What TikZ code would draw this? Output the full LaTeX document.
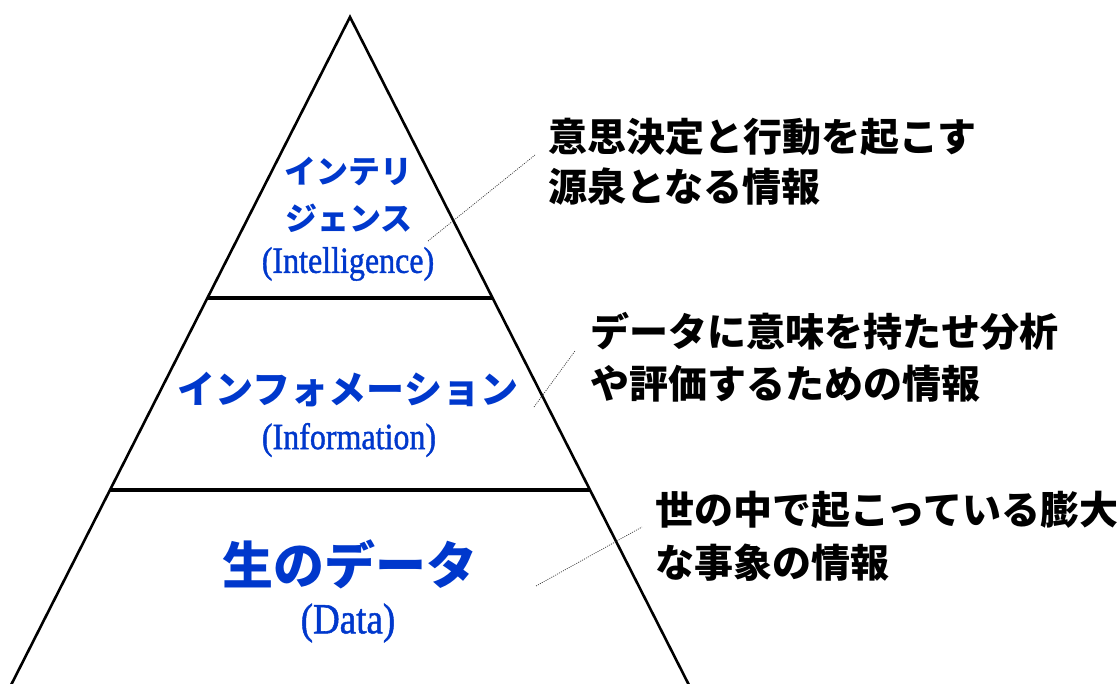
\documentclass[tikz,border=0pt]{standalone}
\usepackage{fontspec}
\newfontfamily\jp{Noto Sans CJK JP}
\newfontfamily\lat[FakeBold=1.2]{Liberation Serif}
\definecolor{tblue}{RGB}{0,56,204}
\tikzset{
  side/.style={line width=2.6pt, line cap=round},
  band/.style={line width=3.6pt},
  lead/.style={line width=0.7pt, dash pattern=on 1pt off 1.2pt, black!80},
  rtext/.style={anchor=base west, inner sep=0pt, font=\jp\bfseries\fontsize{39}{39}\selectfont},
  jtitle/.style={anchor=base, inner sep=0pt, text=tblue},
  ltitle/.style={anchor=center, inner sep=0pt, text=tblue},
}
\begin{document}
\begin{tikzpicture}[x=1pt,y=-1pt]
\useasboundingbox (0,0) rectangle (1118,683);
% pyramid
\coordinate (apex) at (350,17);
\coordinate (bl) at (8,691);
\coordinate (br) at (692,691);
\draw[side] (bl) -- (apex) -- (br);
\coordinate (l1) at (207,298);
\coordinate (r1) at (493,298);
\coordinate (l2) at (110,490);
\coordinate (r2) at (590,490);
\draw[band] (l1) -- (r1);
\draw[band] (l2) -- (r2);
% blue titles
\node[jtitle, font=\jp\bfseries\fontsize{32}{32}\selectfont] (t1a) at (348,183) {インテリ};
\node[jtitle, font=\jp\bfseries\fontsize{32}{32}\selectfont] (t1b) at (349,230) {ジェンス};
\node[ltitle, font=\lat\fontsize{33}{33}\selectfont] (t1c) at (348,264) {\scalebox{0.97}[1.12]{(Intelligence)}};
\node[jtitle, font=\jp\bfseries\fontsize{38}{38}\selectfont] (t2a) at (348,403) {インフォメーション};
\node[ltitle, font=\lat\fontsize{33}{33}\selectfont] (t2b) at (349,440) {\scalebox{0.97}[1.12]{(Information)}};
\node[jtitle, font=\jp\bfseries\fontsize{51}{51}\selectfont] (t3a) at (350,584) {生のデータ};
\node[ltitle, font=\lat\fontsize{39}{39}\selectfont] (t3b) at (348,623) {\scalebox{0.95}[1.1]{(Data)}};
% right descriptions
\node[rtext] (d1a) at (548,151) {意思決定と行動を起こす};
\node[rtext] (d1b) at (548,201) {源泉となる情報};
\node[rtext] (d2a) at (590,346) {データに意味を持たせ分析};
\node[rtext] (d2b) at (590,398) {や評価するための情報};
\node[rtext] (d3a) at (655,524) {世の中で起こっている膨大};
\node[rtext] (d3b) at (655,577) {な事象の情報};
% leader lines
\coordinate (s1) at (428,241);
\coordinate (e1) at (535,155);
\coordinate (s2) at (534,407);
\coordinate (e2) at (575,351);
\coordinate (s3) at (536,586);
\coordinate (e3) at (642,527);
\draw[lead] (s1) -- (e1);
\draw[lead] (s2) -- (e2);
\draw[lead] (s3) -- (e3);
\end{tikzpicture}
\end{document}
